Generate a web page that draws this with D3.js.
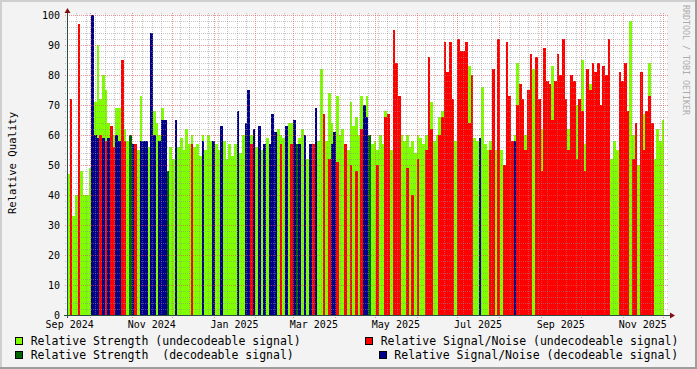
<!DOCTYPE html>
<html>
<head>
<meta charset="utf-8">
<script src="https://cdn.jsdelivr.net/npm/d3@7"></script>
<style>
	body { margin: 0; background: #f3f3f3; }
	text { font-family: 'DejaVu Sans Mono', monospace; }
</style>
</head>
<body>
<div id="chart"></div>
<script>
// time range of the graph and the step of one sample (days)
const startDate = new Date(2024, 8, 14);
const endDate = new Date(2025, 11, 4);
const stepDays = 2;

// Relative Strength, one value per sample
const strength = [
	47, 34, 33, 40, 54, 48, 40, 40, 49, 60,
	71, 90, 72, 80, 75, 64, 62, 60, 69, 69,
	66, 62, 58, 60, 57, 52, 55, 73, 58, 55,
	56, 60, 68, 64, 60, 69, 58, 48, 56, 52,
	58, 56, 59, 55, 62, 57, 60, 56, 57, 53,
	60, 55, 60, 58, 52, 57, 55, 55, 58, 52,
	57, 53, 57, 58, 54, 60, 56, 58, 60, 52,
	56, 55, 55, 53, 59, 53, 55, 57, 62, 60,
	59, 60, 64, 64, 55, 57, 59, 62, 57, 52,
	55, 56, 62, 58, 82, 60, 58, 74, 64, 58,
	73, 60, 62, 57, 55, 71, 63, 66, 60, 73,
	65, 73, 60, 57, 58, 55, 60, 57, 68, 58,
	55, 52, 57, 55, 60, 58, 60, 56, 58, 54,
	60, 59, 57, 60, 55, 71, 58, 60, 66, 68,
	60, 62, 64, 60, 58, 60, 62, 60, 62, 83,
	62, 59, 58, 58, 76, 57, 55, 58, 60, 55,
	50, 55, 50, 58, 58, 56, 60, 84, 66, 68,
	60, 68, 62, 82, 82, 60, 62, 60, 58, 62,
	83, 60, 82, 62, 70, 60, 62, 58, 55, 70,
	65, 85, 57, 60, 77, 62, 67, 60, 62, 60,
	62, 58, 52, 58, 55, 58, 55, 67, 55, 98,
	60, 58, 50, 58, 67, 60, 84, 58, 52, 62,
	58, 65
];

// Relative Signal/Noise, null where there is no value
const snr = [
	null, 72, null, null, 97, null, null, null, null, 100,
	60, 59, 60, 59, 58, 59, 63, 56, 60, 58,
	85, 58, null, null, 57, 57, null, 58, 58, 58,
	null, 94, 60, null, 58, 65, 65, null, null, null,
	65, null, null, null, null, null, 57, null, null, null,
	58, null, null, null, 58, null, null, 63, null, null,
	null, null, null, 68, null, null, 64, 75, 57, 62,
	null, 63, null, 57, null, 57, 67, 61, null, 57,
	null, 63, null, 57, 65, null, 57, null, 60, null,
	57, 57, 69, null, null, 67, null, 52, 57, 61,
	51, null, null, 57, null, 50, null, 48, null, 62,
	70, 66, null, null, null, 50, null, null, 66, 67,
	null, 95, 84, 73, null, null, 49, null, 40, null,
	52, null, null, 55, 86, 62, null, null, 60, 66,
	91, 81, 91, 72, null, 92, 88, 88, 91, 64,
	80, null, null, 59, null, null, null, 55, 82, null,
	92, null, 50, 91, 73, 58, 58, 70, 77, 72,
	55, 75, 87, null, 86, 72, 48, 89, 78, 77,
	65, 78, 87, 80, 92, 72, 55, 80, 78, 52,
	72, 68, 48, 82, 75, 84, 81, 84, 70, 83,
	80, 92, null, null, null, 81, 78, 84, 68, null,
	52, 64, null, 81, 55, 68, 73, 64, null, null,
	null, null
];

// 1 = decodeable signal
const decoded = [
	0, 0, 0, 0, 0, 0, 0, 0, 0, 1,
	1, 1, 0, 1, 0, 1, 0, 0, 1, 1,
	0, 0, 0, 1, 1, 0, 0, 1, 1, 1,
	0, 1, 1, 0, 1, 1, 1, 1, 0, 0,
	1, 0, 0, 0, 0, 0, 0, 0, 0, 0,
	1, 0, 0, 0, 1, 0, 0, 1, 0, 0,
	0, 0, 0, 1, 0, 0, 1, 1, 0, 1,
	0, 1, 0, 1, 0, 1, 1, 1, 0, 0,
	0, 1, 0, 0, 1, 1, 1, 0, 1, 0,
	1, 0, 1, 0, 0, 0, 0, 0, 1, 1,
	0, 0, 0, 0, 0, 0, 0, 0, 0, 0,
	1, 1, 1, 0, 0, 0, 0, 0, 0, 0,
	0, 0, 0, 0, 0, 0, 0, 0, 0, 0,
	0, 0, 0, 0, 0, 0, 0, 0, 0, 0,
	0, 0, 0, 0, 0, 0, 0, 0, 0, 0,
	0, 0, 0, 1, 0, 0, 0, 0, 0, 0,
	0, 0, 0, 0, 0, 0, 1, 0, 0, 0,
	0, 0, 0, 0, 0, 0, 0, 0, 0, 0,
	0, 0, 0, 0, 0, 0, 0, 0, 0, 0,
	0, 0, 0, 0, 0, 0, 0, 0, 0, 0,
	0, 0, 0, 0, 0, 0, 0, 0, 0, 0,
	0, 0, 0, 0, 0, 0, 0, 0, 0, 0,
	0, 0
];

const yTicks = [ 0, 10, 20, 30, 40, 50, 60, 70, 80, 90, 100 ];
const legendItems = [
	{ label: 'Relative Strength (undecodeable signal)', color: '#7fff00' },
	{ label: 'Relative Strength  (decodeable signal)', color: '#006400' },
	{ label: 'Relative Signal/Noise (undecodeable signal)', color: '#ff0000' },
	{ label: 'Relative Signal/Noise (decodeable signal)', color: '#00008b' }
];

const dimensions = {
	width  : 697,
	height : 369,
	margin : { top: 15, left: 67 },
	boundedWidth  : 600,
	boundedHeight : 300
};

const svg = d3.select('#chart').append('svg')
	.attr('width', dimensions.width)
	.attr('height', dimensions.height)
	.style('display', 'block');

// background + 3d frame
svg.append('rect').attr('width', dimensions.width).attr('height', dimensions.height).attr('fill', '#f3f3f3');
svg.append('rect').attr('x', 0).attr('y', 0).attr('width', 697).attr('height', 2).attr('fill', '#cfcfcf');
svg.append('rect').attr('x', 0).attr('y', 0).attr('width', 2).attr('height', 369).attr('fill', '#cfcfcf');
svg.append('rect').attr('x', 0).attr('y', 367).attr('width', 697).attr('height', 2).attr('fill', '#9e9e9e');
svg.append('rect').attr('x', 695).attr('y', 0).attr('width', 2).attr('height', 369).attr('fill', '#9e9e9e');

const plotLeft = dimensions.margin.left;
const plotTop = dimensions.margin.top;
const plotRight = plotLeft + dimensions.boundedWidth;
const plotBottom = plotTop + dimensions.boundedHeight;

const x = d3.scaleTime().domain([ startDate, endDate ]).range([ plotLeft, plotRight ]);
const y = d3.scaleLinear().domain([ 0, 100 ]).range([ plotBottom, plotTop ]);

svg.append('rect')
	.attr('x', plotLeft).attr('y', plotTop)
	.attr('width', dimensions.boundedWidth).attr('height', dimensions.boundedHeight)
	.attr('fill', '#ffffff');

const samples = strength.map(function(s, i) {
	return {
		t0       : d3.timeDay.offset(startDate, i * stepDays),
		t1       : d3.timeDay.offset(startDate, (i + 1) * stepDays),
		strength : s,
		snr      : snr[i],
		decoded  : decoded[i] === 1
	};
});

const bars = svg.append('g').attr('shape-rendering', 'crispEdges');

// strength is only shown as "decodeable" where no S/N value is drawn over it
bars.selectAll('rect.strength')
	.data(samples)
	.enter()
	.append('rect')
	.attr('class', 'strength')
	.attr('x', d => x(d.t0))
	.attr('width', d => x(d.t1) - x(d.t0))
	.attr('y', d => y(d.strength))
	.attr('height', d => y(0) - y(d.strength))
	.attr('fill', d => (d.decoded && d.snr === null ? '#006400' : '#7fff00'));

bars.selectAll('rect.snr')
	.data(samples.filter(d => d.snr !== null))
	.enter()
	.append('rect')
	.attr('class', 'snr')
	.attr('x', d => x(d.t0))
	.attr('width', d => x(d.t1) - x(d.t0))
	.attr('y', d => y(d.snr))
	.attr('height', d => y(0) - y(d.snr))
	.attr('fill', d => (d.decoded ? '#00008b' : '#ff0000'));

// grid, drawn over the data like rrdtool does
const grid = svg.append('g').attr('shape-rendering', 'crispEdges');
const minorY = d3.range(0, 101, 2).filter(v => v % 10 !== 0);

grid.selectAll('line.minory')
	.data(minorY)
	.enter()
	.append('line')
	.attr('x1', plotLeft - 2).attr('x2', plotRight + 2)
	.attr('y1', d => Math.round(y(d)) + 0.5).attr('y2', d => Math.round(y(d)) + 0.5)
	.attr('stroke', '#8f8f8f').attr('stroke-opacity', 0.5)
	.attr('stroke-dasharray', '1,1');

const months = d3.timeMonth.range(startDate, endDate);
const weeks = d3.timeSaturday.range(startDate, endDate)
	.filter(w => !months.some(m => Math.abs(x(m) - x(w)) < 2));

grid.selectAll('line.minorx')
	.data(weeks)
	.enter()
	.append('line')
	.attr('x1', d => Math.round(x(d)) + 0.5).attr('x2', d => Math.round(x(d)) + 0.5)
	.attr('y1', plotTop - 2).attr('y2', plotBottom + 2)
	.attr('stroke', '#8f8f8f').attr('stroke-opacity', 0.5)
	.attr('stroke-dasharray', '1,1');

grid.selectAll('line.majory')
	.data(yTicks.filter(v => v > 0))
	.enter()
	.append('line')
	.attr('x1', plotLeft - 2).attr('x2', plotRight + 2)
	.attr('y1', d => Math.round(y(d)) + 0.5).attr('y2', d => Math.round(y(d)) + 0.5)
	.attr('stroke', '#de5050').attr('stroke-opacity', 0.6)
	.attr('stroke-dasharray', '1,1');

grid.selectAll('line.majorx')
	.data(months)
	.enter()
	.append('line')
	.attr('x1', d => Math.round(x(d)) + 0.5).attr('x2', d => Math.round(x(d)) + 0.5)
	.attr('y1', plotTop - 2).attr('y2', plotBottom + 3)
	.attr('stroke', '#de5050').attr('stroke-opacity', 0.6)
	.attr('stroke-dasharray', '1,1');

// axes
svg.append('line')
	.attr('x1', plotLeft - 3).attr('x2', plotRight + 4)
	.attr('y1', plotBottom + 0.5).attr('y2', plotBottom + 0.5)
	.attr('stroke', '#2c4d43');
svg.append('line')
	.attr('x1', plotLeft + 0.5).attr('x2', plotLeft + 0.5)
	.attr('y1', plotBottom + 3).attr('y2', plotTop - 4)
	.attr('stroke', '#2c4d43');
svg.append('path')
	.attr('d', `M${plotRight + 3},${plotBottom - 2.5} L${plotRight + 8},${plotBottom + 0.5} L${plotRight + 3},${plotBottom + 3.5} Z`)
	.attr('fill', '#7f1010');
svg.append('path')
	.attr('d', `M${plotLeft - 2.5},${plotTop - 2} L${plotLeft + 0.5},${plotTop - 7} L${plotLeft + 3.5},${plotTop - 2} Z`)
	.attr('fill', '#7f1010');

// y labels
svg.append('g')
	.selectAll('text')
	.data(yTicks)
	.enter()
	.append('text')
	.attr('x', 60)
	.attr('y', d => y(d) + 3.6)
	.attr('text-anchor', 'end')
	.attr('font-size', '10px')
	.attr('fill', '#000')
	.text(d => d);

// x labels: every second month, centred on the middle of the month
const labelMonths = d3.timeMonth.range(d3.timeMonth.floor(startDate), endDate)
	.filter(m => m.getMonth() % 2 === 0);
const formatMonth = d3.timeFormat('%b %Y');
svg.append('g')
	.selectAll('text')
	.data(labelMonths)
	.enter()
	.append('text')
	.attr('x', d => (x(d) + x(d3.timeMonth.offset(d, 1))) / 2)
	.attr('y', 328)
	.attr('text-anchor', 'middle')
	.attr('font-size', '10px')
	.attr('fill', '#000')
	.text(d => formatMonth(d));

svg.append('text')
	.attr('transform', 'translate(16,163) rotate(-90)')
	.attr('text-anchor', 'middle')
	.attr('font-size', '10.6px')
	.attr('fill', '#000')
	.text('Relative Quality');

svg.append('text')
	.attr('transform', 'translate(683,5) rotate(90)')
	.attr('font-size', '8.3px')
	.attr('fill', '#acacac')
	.text('RRDTOOL / TOBI OETIKER');

// legend
const legendPos = [
	{ box: 15, text: 30.7, y: 337 },
	{ box: 15, text: 30.7, y: 351 },
	{ box: 365, text: 380.7, y: 337 },
	{ box: 379.3, text: 394.3, y: 351 }
];
const legend = svg.append('g').attr('class', 'legend');
legendItems.forEach(function(item, i) {
	const p = legendPos[i];
	legend.append('rect')
		.attr('x', Math.round(p.box) + 0.5).attr('y', p.y + 0.5)
		.attr('width', 7).attr('height', 7)
		.attr('fill', item.color)
		.attr('stroke', '#000');
	legend.append('text')
		.attr('x', p.text).attr('y', p.y + 8)
		.attr('font-size', '11.5px')
		.attr('fill', '#000')
		.attr('xml:space', 'preserve')
		.style('white-space', 'pre')
		.text(item.label);
});
</script>
</body>
</html>
